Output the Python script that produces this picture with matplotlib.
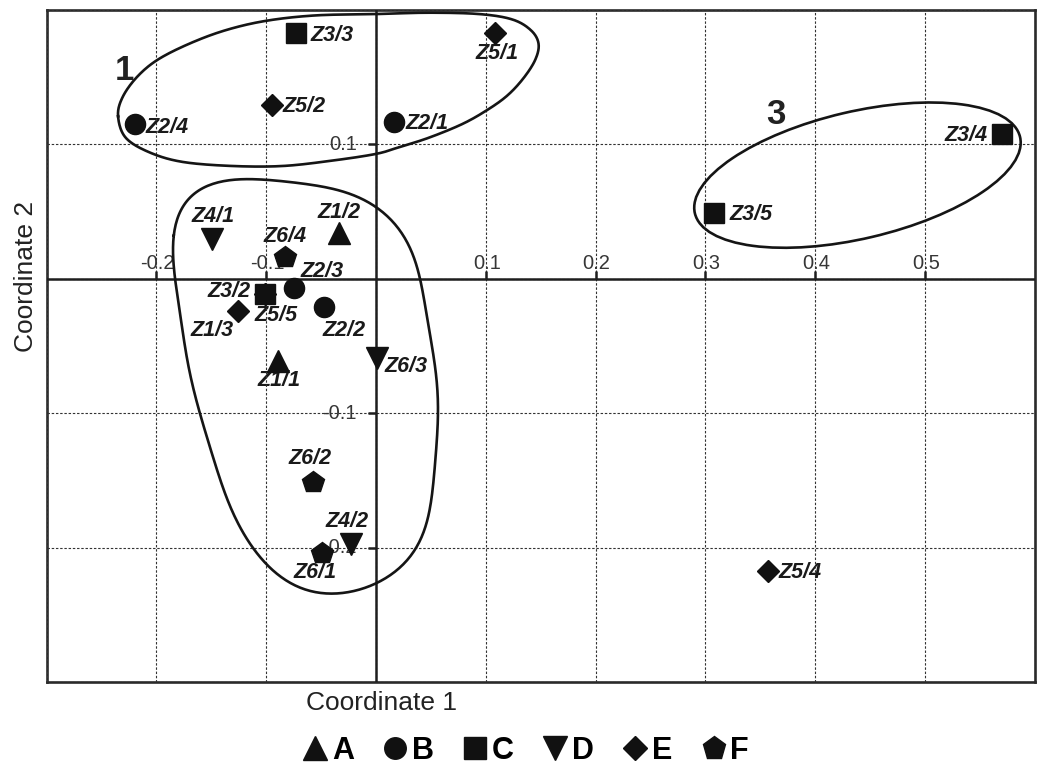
import numpy as np
import matplotlib
matplotlib.use("Agg")
import matplotlib.pyplot as plt
from matplotlib.lines import Line2D
from matplotlib.markers import TICKUP, TICKLEFT
from matplotlib.patches import Ellipse
from matplotlib.transforms import ScaledTranslation

plt.rcParams['font.family'] = ['Liberation Sans', 'DejaVu Sans']

# PCoA scores of the samples
labels = ['Z1/1', 'Z1/2', 'Z1/3',
          'Z2/1', 'Z2/2', 'Z2/3', 'Z2/4',
          'Z3/2', 'Z3/3', 'Z3/4', 'Z3/5',
          'Z4/1', 'Z4/2',
          'Z5/1', 'Z5/2', 'Z5/4', 'Z5/5',
          'Z6/1', 'Z6/2', 'Z6/3', 'Z6/4']
coord1 = [-0.089, -0.034, -0.126,
          0.016, -0.047, -0.075, -0.220,
          -0.101, -0.073, 0.570, 0.308,
          -0.149, -0.023,
          0.108, -0.095, 0.357, -0.101,
          -0.049, -0.057, 0.001, -0.083]
coord2 = [-0.061, 0.034, -0.024,
          0.117, -0.021, -0.007, 0.115,
          -0.011, 0.183, 0.108, 0.049,
          0.030, -0.197,
          0.183, 0.129, -0.217, -0.011,
          -0.204, -0.151, -0.059, 0.016]
groups = ['A', 'A', 'E',
          'B', 'B', 'B', 'B',
          'C', 'C', 'C', 'C',
          'D', 'D',
          'E', 'E', 'E', 'E',
          'F', 'F', 'D', 'F']

group_names = ['A', 'B', 'C', 'D', 'E', 'F']
group_markers = {'A': '^', 'B': 'o', 'C': 's', 'D': 'v', 'E': 'D', 'F': 'p'}
group_sizes = {'A': 16, 'B': 14.5, 'C': 15, 'D': 16, 'E': 11, 'F': 16}

# cluster outlines (closed, traced around the groups)
cluster1 = [(-0.235, 0.121), (-0.231, 0.135), (-0.218, 0.150), (-0.199, 0.163),
            (-0.170, 0.175), (-0.137, 0.185), (-0.100, 0.192), (-0.055, 0.196),
            (0.000, 0.197), (0.048, 0.198), (0.094, 0.197), (0.124, 0.193),
            (0.141, 0.185), (0.148, 0.175), (0.145, 0.163), (0.134, 0.149),
            (0.119, 0.136), (0.100, 0.125), (0.078, 0.115), (0.048, 0.105),
            (0.021, 0.098), (0.000, 0.093), (-0.040, 0.088), (-0.085, 0.084),
            (-0.131, 0.084), (-0.176, 0.087), (-0.206, 0.094), (-0.228, 0.105)]
cluster2 = [(-0.183, 0.031), (-0.179, 0.051), (-0.170, 0.062), (-0.155, 0.069),
            (-0.131, 0.073), (-0.100, 0.073), (-0.070, 0.072), (-0.040, 0.067),
            (0.000, 0.053), (0.018, 0.041), (0.033, 0.018), (0.039, 0.001),
            (0.048, -0.031), (0.054, -0.069), (0.056, -0.101), (0.054, -0.141),
            (0.048, -0.173), (0.036, -0.201), (0.018, -0.218), (0.000, -0.225),
            (-0.025, -0.233), (-0.041, -0.234), (-0.064, -0.232), (-0.085, -0.223),
            (-0.106, -0.205), (-0.128, -0.178), (-0.146, -0.141), (-0.161, -0.096),
            (-0.172, -0.061), (-0.181, -0.019), (-0.182, 0.001)]
# cluster 3 is a plain ellipse: centre (data), size (inches), tilt (deg)
cluster3_center = (0.4385, 0.0772)
cluster3_size = (3.34, 1.27)
cluster3_angle = 13.2

# where each sample label sits relative to its marker (pixels, ha)
label_pos = {
    'Z1/1': (1, -20, 'center'), 'Z1/2': (0, 21, 'center'), 'Z1/3': (-26, -19, 'center'),
    'Z2/1': (12, -2, 'left'), 'Z2/2': (20, -23, 'center'), 'Z2/3': (7, 17, 'left'),
    'Z2/4': (11, -3, 'left'),
    'Z3/2': (-15, 2, 'right'), 'Z3/3': (15, -3, 'left'), 'Z3/4': (-14, -2, 'right'),
    'Z3/5': (15, -1, 'left'),
    'Z4/1': (1, 22, 'center'), 'Z4/2': (-4, 22, 'center'),
    'Z5/1': (2, -21, 'center'), 'Z5/2': (11, -1, 'left'), 'Z5/4': (11, -2, 'left'),
    'Z5/5': (11, -22, 'center'),
    'Z6/1': (-7, -19, 'center'), 'Z6/2': (-3, 23, 'center'), 'Z6/3': (7, -8, 'left'),
    'Z6/4': (0, 21, 'center'),
}


def catmull_rom(pts, n=20):
    """Closed Catmull-Rom curve through the outline points."""
    p = np.asarray(pts, dtype=float)
    m = len(p)
    t = np.linspace(0, 1, n, endpoint=False)[:, None]
    segs = []
    for i in range(m):
        p0, p1, p2, p3 = p[i - 1], p[i], p[(i + 1) % m], p[(i + 2) % m]
        segs.append(0.5 * (2 * p1 + (-p0 + p2) * t
                           + (2 * p0 - 5 * p1 + 4 * p2 - p3) * t ** 2
                           + (-p0 + 3 * p1 - 3 * p2 + p3) * t ** 3))
    out = np.vstack(segs)
    return np.vstack([out, out[:1]])


def fourier_outline(pts, harmonics=7, n=400):
    """Smooth closed curve: low-order Fourier fit over chord length."""
    p = np.asarray(pts, dtype=float)
    scale = np.array([1.1, 1.34])          # x/y units -> roughly equal screen length
    q = p * scale
    seg = np.hypot(*np.diff(np.vstack([q, q[:1]]), axis=0).T)
    s = np.concatenate([[0], np.cumsum(seg)[:-1]]) / seg.sum()

    def basis(t):
        cols = [np.ones_like(t)]
        for k in range(1, harmonics + 1):
            cols += [np.cos(2 * np.pi * k * t), np.sin(2 * np.pi * k * t)]
        return np.column_stack(cols)

    coef, *_ = np.linalg.lstsq(basis(s), q, rcond=None)
    t = np.linspace(0, 1, n + 1)
    return basis(t) @ coef / scale


fig = plt.figure(figsize=(10.45, 7.65), dpi=100)
ax = fig.add_axes([0.0447, 0.1081, 0.9455, 0.8788])
ax.set_xlim(-0.3, 0.6)
ax.set_ylim(-0.3, 0.2)

# dotted grid every 0.1
ax.set_xticks(np.arange(-3, 7) / 10)
ax.set_yticks(np.arange(-3, 3) / 10)
ax.set_axisbelow(False)
ax.grid(True, color='#333333', linestyle=(0, (2.2, 1.6)), linewidth=0.8)
ax.tick_params(length=0, labelbottom=False, labelleft=False)
for sp in ax.spines.values():
    sp.set_linewidth(1.9)
    sp.set_color('#2a2a2a')

# axes through the origin with tick labels inside the plot
ax.axhline(0, color='#1e1e1e', lw=1.8, zorder=3)
ax.axvline(0, color='#1e1e1e', lw=1.8, zorder=3)
xt = [-0.2, -0.1, 0.1, 0.2, 0.3, 0.4, 0.5]
yt = [0.1, -0.1, -0.2]
ax.plot(xt, [0] * len(xt), ls='none', marker=TICKUP, ms=6, mew=1.8, color='#1e1e1e', zorder=3)
ax.plot([0] * len(yt), yt, ls='none', marker=TICKLEFT, ms=6, mew=1.8, color='#1e1e1e', zorder=3)
for v in xt:
    ax.annotate(f'{v:.1f}', (v, 0), xytext=(1, 10), textcoords='offset pixels',
                ha='center', va='baseline', fontsize=14.5, color='#363636', zorder=1)
for v in yt:
    ax.annotate(f'{v:.1f}', (0, v), xytext=(-19, 0), textcoords='offset pixels',
                ha='right', va='center', fontsize=14.5, color='#363636', zorder=1)

# cluster outlines
c1 = catmull_rom(cluster1)
ax.plot(c1[:, 0], c1[:, 1], color='#151515', lw=1.9, zorder=3)
c2 = fourier_outline(cluster2)
ax.plot(c2[:, 0], c2[:, 1], color='#151515', lw=1.9, zorder=3)
ax.add_patch(Ellipse((0, 0), cluster3_size[0], cluster3_size[1], angle=cluster3_angle,
                     transform=fig.dpi_scale_trans + ScaledTranslation(*cluster3_center, ax.transData),
                     fill=False, edgecolor='#151515', lw=1.9, zorder=3))
ax.text(-0.229, 0.155, '1', fontsize=25, fontweight='bold', color='#222222',
        ha='center', va='center', zorder=2)
ax.text(0.364, 0.122, '3', fontsize=25, fontweight='bold', color='#222222',
        ha='center', va='center', zorder=2)

# samples (Z5/5 sits under Z3/2, so draw diamonds first)
x = np.array(coord1)
y = np.array(coord2)
g = np.array(groups)
for name in ['E', 'A', 'B', 'C', 'D', 'F']:
    sel = g == name
    ax.plot(x[sel], y[sel], ls='none', marker=group_markers[name],
            ms=group_sizes[name], color='#111111', mec='#111111', zorder=4)

for lab, xv, yv in zip(labels, coord1, coord2):
    dx, dy, ha = label_pos[lab]
    ax.annotate(lab, (xv, yv), xytext=(dx, dy), textcoords='offset pixels',
                ha=ha, va='center', fontsize=15.5, fontweight='bold', style='italic',
                color='#1a1a1a', zorder=2)

# axis titles
fig.text(381 / 1045, 1 - 703 / 765, 'Coordinate 1', fontsize=19, color='#222222',
         ha='center', va='center')
fig.text(26 / 1045, 1 - 276 / 765, 'Coordinate 2', fontsize=19, color='#222222',
         ha='center', va='center', rotation=90)

# group key
handles = [Line2D([], [], ls='none', marker=group_markers[n], color='#111111',
                  ms=group_sizes[n] + 1) for n in group_names]
fig.legend(handles, group_names, loc='center', bbox_to_anchor=(526 / 1045, 1 - 751 / 765),
           ncol=6, frameon=False, handlelength=0.8, handletextpad=0.15,
           columnspacing=0.95, borderpad=0, prop={'size': 22, 'weight': 'bold'})

fig.savefig('out.png', dpi=100)
